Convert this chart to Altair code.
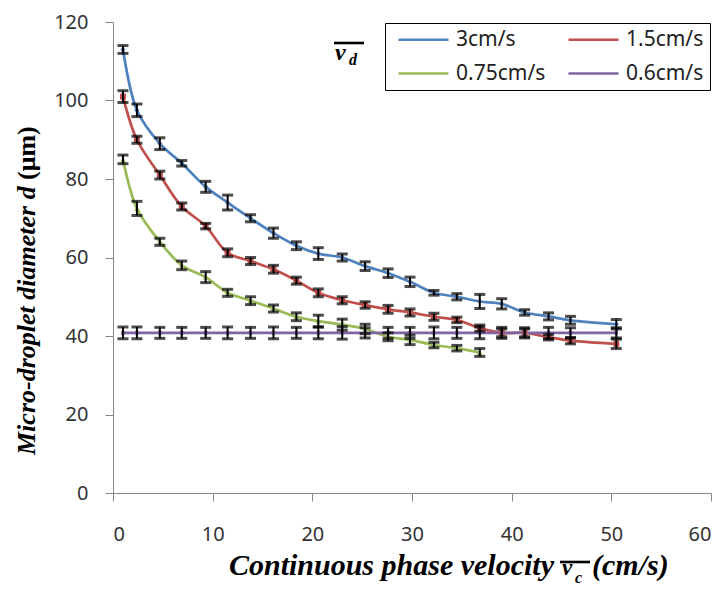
import altair as alt
import pandas as pd

# ---- data ----
x_vals = [1.0, 2.4, 4.7, 6.9, 9.3, 11.5, 13.8, 16.1, 18.4, 20.6, 23.0,
          25.3, 27.6, 29.8, 32.2, 34.5, 36.8, 39.0, 41.3, 43.7, 45.9, 50.5]

labels = ["3cm/s", "1.5cm/s", "0.75cm/s", "0.6cm/s"]
colors = ["#4F81BD", "#C0504D", "#9BBB59", "#8064A2"]
shapes = ["diamond", "square", "triangle-up", "cross"]
sizes = [28, 36, 32, 22]

d_3 = [113, 97.5, 89, 84, 78, 74, 70, 66.2, 63, 61, 60, 57.8, 56, 53.8, 51, 50, 48.8, 48.2, 46, 45, 44, 43]
e_3 = [1.0, 1.6, 1.5, 0.7, 1.4, 1.9, 0.9, 1.3, 1.0, 1.5, 0.9, 1.1, 1.1, 1.2, 0.6, 0.8, 1.8, 1.3, 0.7, 0.9, 1.0, 1.2]

d_15 = [101, 90, 81, 73, 68, 61.2, 59.1, 57, 54.1, 51, 49.1, 47.9, 46.8, 46, 44.9, 44.1, 42, 40.8, 40.8, 39.7, 38.8, 38]
e_15 = [1.5, 0.9, 1.0, 0.9, 0.7, 1.0, 0.9, 1.0, 0.9, 1.0, 0.9, 0.8, 1.0, 0.9, 0.9, 0.7, 0.8, 1.0, 1.0, 0.7, 0.8, 1.2]

d_075 = [85, 72.5, 64, 58, 55, 51, 49, 47, 44.9, 43.8, 42.9, 41.8, 39.8, 39, 37.7, 36.9, 35.8]
e_075 = [1.1, 1.8, 0.9, 1.1, 1.4, 0.9, 1.0, 0.9, 1.0, 1.5, 1.4, 1.2, 1.0, 1.2, 0.7, 0.7, 1.0]

d_06 = [40.8, 40.8, 40.8, 40.8, 40.8, 40.8, 40.8, 40.8, 40.8, 40.8, 40.8,
        40.8, 40.8, 40.8, 40.8, 40.8, 40.8, 40.8, 40.8, 40.8, 40.8, 40.8]
e_06 = [1.5, 1.5, 1.4, 1.4, 1.4, 1.5, 1.4, 1.5, 1.4, 1.5, 1.6, 1.3, 1.4, 1.4, 1.5, 1.4, 1.5, 1.4, 1.3, 1.4, 1.3, 1.3]

x_ticks = [0, 10, 20, 30, 40, 50, 60]
y_ticks = [0, 20, 40, 60, 80, 100, 120]

series = [(labels[0], d_3, e_3), (labels[1], d_15, e_15),
          (labels[2], d_075, e_075), (labels[3], d_06, e_06)]
rows = []
for name, ys, es in series:
    for xv, yv, ev in zip(x_vals, ys, es):
        rows.append({"series": name, "x": xv, "y": yv, "lo": yv - ev, "hi": yv + ev})
df = pd.DataFrame(rows)

W, H = 598, 471
xs = alt.Scale(domain=[0, 60], nice=False, zero=False)
ysc = alt.Scale(domain=[0, 120], nice=False, zero=False)

x_enc = alt.X("x:Q", scale=xs, axis=alt.Axis(values=x_ticks, title=None, labelPadding=23, format="d"))
y_enc = alt.Y("y:Q", scale=ysc, axis=alt.Axis(values=y_ticks, title=None, labelPadding=17, format="d"))

legend = alt.Legend(
    title=None, orient="none", legendX=272, legendY=1, columns=2, direction="horizontal",
    symbolType="M-5,0H5", symbolSize=100, symbolStrokeWidth=2.5, symbolOffset=22,
    labelFont="Noto Sans", labelFontSize=21, labelColor="#222222",
    labelOffset=22, strokeColor="black", fillColor="white", padding=6,
    rowPadding=12, columnPadding=15)

lines = alt.Chart(df).mark_line(strokeWidth=2.7, interpolate="catmull-rom").encode(
    x=x_enc, y=y_enc,
    color=alt.Color("series:N", scale=alt.Scale(domain=labels, range=colors), legend=legend),
)

point_layers = []
for name, col, shp, sz in zip(labels, colors, shapes, sizes):
    sub = df[df["series"] == name]
    pt = alt.Chart(sub).mark_point(filled=True, shape=shp, color=col, size=sz, opacity=1,
                                   angle=45 if shp == "cross" else 0).encode(
        x=alt.X("x:Q", scale=xs), y=alt.Y("y:Q", scale=ysc))
    point_layers.append(pt)

err_rule = alt.Chart(df).mark_rule(color="black", strokeWidth=2).encode(
    x=alt.X("x:Q", scale=xs), y=alt.Y("lo:Q", scale=ysc), y2="hi:Q")
cap_lo = alt.Chart(df).mark_tick(color="black", orient="horizontal", size=11, thickness=3).encode(
    x=alt.X("x:Q", scale=xs), y=alt.Y("lo:Q", scale=ysc))
cap_hi = alt.Chart(df).mark_tick(color="black", orient="horizontal", size=11, thickness=3).encode(
    x=alt.X("x:Q", scale=xs), y=alt.Y("hi:Q", scale=ysc))


def txt(text, x, y, size, align="left", style="italic", angle=0, baseline="alphabetic"):
    return alt.Chart(pd.DataFrame({"t": [text]})).mark_text(
        text=text, align=align, baseline=baseline, font="Liberation Serif",
        fontSize=size, fontStyle=style, fontWeight="bold", color="black", angle=angle
    ).encode(x=alt.value(x), y=alt.value(y))


def bar(x1, x2, y, w):
    return alt.Chart(pd.DataFrame({"a": [0]})).mark_rule(color="black", strokeWidth=w).encode(
        x=alt.value(x1), x2=alt.value(x2), y=alt.value(y))


annotations = [
    # x-axis title
    txt("Continuous phase velocity", 441, 553, 30, "right"),
    txt("v", 449, 553, 23),
    txt("c", 462, 561, 16),
    txt("(cm/s)", 479, 553, 30),
    bar(447, 477, 540, 2.6),
    # y-axis title
    txt("Micro-droplet diameter d", -86, 433, 26, "left", "italic", 270, "middle"),
    txt("(μm)", -86, 158, 26, "left", "normal", 270, "middle"),
    # series label next to the legend
    txt("v", 222, 38, 24),
    txt("d", 236, 43, 16),
    bar(221, 251, 21, 2.6),
]

chart = alt.layer(lines, *point_layers, err_rule, cap_lo, cap_hi, *annotations).properties(
    width=W, height=H,
    autosize=alt.AutoSizeParams(type="none"),
    padding={"left": 105, "top": 14, "right": 2, "bottom": 94},
).configure_view(stroke=None).configure_axis(
    grid=False, domainColor="#868686", tickColor="#868686", tickSize=8,
    labelFont="Noto Sans", labelFontSize=20, labelColor="#333333",
)

chart.save("out.html", embed_options={"renderer": "svg", "actions": False})
